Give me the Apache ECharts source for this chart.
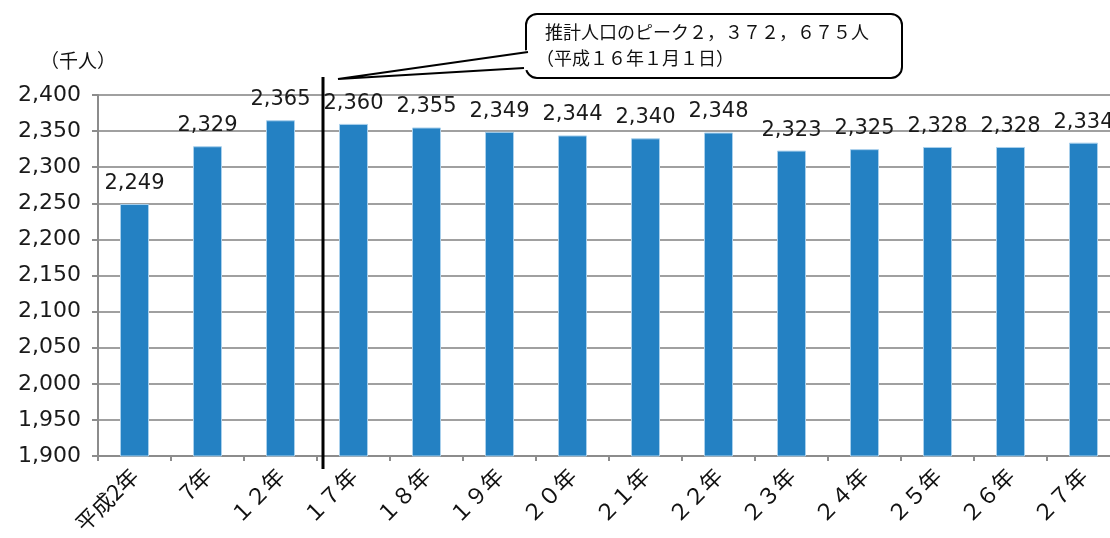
<!DOCTYPE html>
<html>
<head>
<meta charset="utf-8">
<script src="https://cdn.jsdelivr.net/npm/echarts@6/dist/echarts.min.js"></script>
<style>
  html, body { margin: 0; padding: 0; background: #fff; }
  #myChart { width: 1110px; height: 538px; }
</style>
</head>
<body>
<div id="myChart"></div>
<script>
  // 年次と人口（千人）
  var categories = ['平成2年', '7年', '１２年', '１７年', '１８年', '１９年', '２０年',
    '２１年', '２２年', '２３年', '２４年', '２５年', '２６年', '２７年'];
  var population = [2249, 2329, 2365, 2360, 2355, 2349, 2344, 2340, 2348, 2323, 2325, 2328, 2328, 2334];
  var yTicks = [1900, 2400, 50]; // min, max, interval
  var peakNote = ['推計人口のピーク２，３７２，６７５人', '（平成１６年１月１日）'];

  var numFont = 'DejaVu Sans';
  var jpFont = 'Noto Sans CJK JP';

  function comma(v) {
    return String(v).replace(/\B(?=(\d{3})+(?!\d))/g, ',');
  }

  var myChart = echarts.init(document.getElementById('myChart'));
  var option = {
    animation: false,
    grid: { left: 98, top: 95, width: 1022, height: 361, outerBoundsMode: 'none', containLabel: false },
    xAxis: {
      type: 'category',
      data: categories,
      axisLine: { lineStyle: { color: '#8c8c8c', width: 2 } },
      axisTick: { show: true, length: 5, lineStyle: { color: '#8c8c8c', width: 2 } },
      axisLabel: {
        rotate: 45,
        margin: 16,
        fontFamily: jpFont,
        fontSize: 22,
        color: '#111'
      }
    },
    yAxis: {
      type: 'value',
      min: yTicks[0],
      max: yTicks[1],
      interval: yTicks[2],
      axisLine: { show: true, lineStyle: { color: '#8c8c8c', width: 2 } },
      axisTick: { show: true, length: 6, lineStyle: { color: '#8c8c8c', width: 2 } },
      splitLine: { lineStyle: { color: '#a0a0a0', width: 2 } },
      axisLabel: {
        formatter: comma,
        margin: 17,
        fontFamily: numFont,
        fontSize: 22,
        color: '#1a1a1a'
      }
    },
    series: [{
      type: 'bar',
      data: population,
      barWidth: 29,
      itemStyle: { color: '#2481c3', borderColor: '#a9d0ec', borderWidth: 1 },
      label: {
        show: true,
        position: 'top',
        distance: 10,
        formatter: function (p) { return comma(p.value); },
        fontFamily: numFont,
        fontSize: 21,
        color: '#1a1a1a'
      }
    }]
  };
  myChart.setOption(option);

  // 区切り線（１２年と１７年の間）と吹き出し
  var x12 = myChart.convertToPixel({ xAxisIndex: 0 }, '１２年');
  var x17 = myChart.convertToPixel({ xAxisIndex: 0 }, '１７年');
  var sepX = (x12 + x17) / 2 + 6;

  myChart.setOption({
    graphic: [
      {
        type: 'line',
        shape: { x1: sepX, y1: 77, x2: sepX, y2: 469 },
        style: { stroke: '#000', lineWidth: 3 },
        z: 100
      },
      {
        type: 'text',
        left: 40, top: 51,
        style: { text: '（千人）', font: '19px "Noto Sans CJK JP"', fill: '#111' }
      },
      {
        type: 'rect',
        shape: { x: 526, y: 14, width: 376, height: 64, r: 11 },
        style: { fill: '#fff', stroke: '#000', lineWidth: 2 },
        z: 100
      },
      {
        type: 'polygon',
        shape: { points: [[sepX + 15, 79], [528, 50], [528, 70]] },
        style: { fill: '#fff' },
        z: 101
      },
      {
        type: 'polyline',
        shape: { points: [[528, 52], [sepX + 15, 79], [524, 68]] },
        style: { stroke: '#000', lineWidth: 2, fill: null },
        z: 102
      },
      {
        type: 'text',
        left: 545, top: 23,
        style: { text: peakNote[0], font: '18px "Noto Sans CJK JP"', fill: '#111' },
        z: 103
      },
      {
        type: 'text',
        left: 536, top: 49,
        style: { text: peakNote[1], font: '18px "Noto Sans CJK JP"', fill: '#111' },
        z: 103
      }
    ]
  });
</script>
</body>
</html>
